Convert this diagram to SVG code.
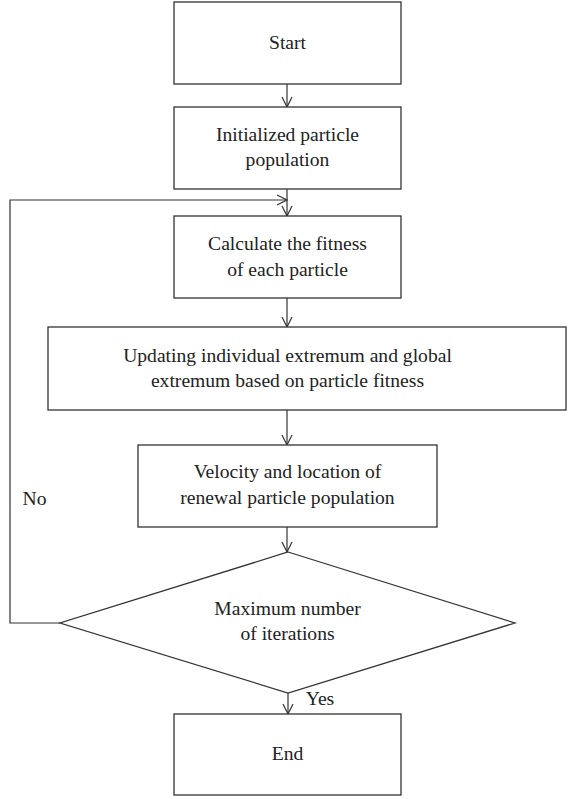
<svg xmlns="http://www.w3.org/2000/svg" width="568" height="799" viewBox="0 0 568 799">
<style>
.box{fill:#fff;stroke:#333;stroke-width:1.3}
.ln{fill:none;stroke:#333;stroke-width:1.2}
.t{font-family:'Liberation Serif','Times New Roman','DejaVu Serif',serif;font-size:19.6px;fill:#222;text-anchor:middle}
</style>
<defs>
<marker id="ah" viewBox="0 0 12 12" refX="11" refY="6" markerWidth="12" markerHeight="12" markerUnits="userSpaceOnUse" orient="auto">
<path d="M1,1 L11,6 L1,11" fill="none" stroke="#333" stroke-width="1.2"/>
</marker>
</defs>
<rect width="568" height="799" fill="#fff"/>
<g id="connectors">
<line class="ln" x1="287" y1="84" x2="287" y2="107" marker-end="url(#ah)"/>
<line class="ln" x1="287" y1="189" x2="287" y2="216" marker-end="url(#ah)"/>
<polyline class="ln" points="60,623 10,623 10,200 287,200" marker-end="url(#ah)"/>
<line class="ln" x1="287" y1="298" x2="287" y2="327" marker-end="url(#ah)"/>
<line class="ln" x1="287" y1="410" x2="287" y2="445" marker-end="url(#ah)"/>
<line class="ln" x1="287" y1="527" x2="287" y2="552" marker-end="url(#ah)"/>
<line class="ln" x1="288" y1="693" x2="288" y2="714" marker-end="url(#ah)"/>
<text class="t" x="34.5" y="505">No</text>
<text class="t" x="320" y="705">Yes</text>
</g>
<g id="start">
<rect class="box" x="174" y="2" width="227" height="82"/>
<text class="t" x="287.5" y="49">Start</text>
</g>
<g id="init">
<rect class="box" x="174" y="107" width="227" height="82"/>
<text class="t" x="287.5" y="141">Initialized particle</text>
<text class="t" x="287.5" y="166">population</text>
</g>
<g id="fitness">
<rect class="box" x="174" y="216" width="227" height="82"/>
<text class="t" x="287.5" y="250">Calculate the fitness</text>
<text class="t" x="287.5" y="276">of each particle</text>
</g>
<g id="update">
<rect class="box" x="48" y="327" width="518" height="83"/>
<text class="t" x="287.5" y="362">Updating individual extremum and global</text>
<text class="t" x="287.5" y="387">extremum based on particle fitness</text>
</g>
<g id="velocity">
<rect class="box" x="138" y="445" width="299" height="82"/>
<text class="t" x="287.5" y="478">Velocity and location of</text>
<text class="t" x="287.5" y="504">renewal particle population</text>
</g>
<g id="decision">
<polygon class="box" points="288,552 515,623 288,693 60,623"/>
<text class="t" x="287.5" y="615">Maximum number</text>
<text class="t" x="287.5" y="640">of iterations</text>
</g>
<g id="end">
<rect class="box" x="174" y="714" width="227" height="81"/>
<text class="t" x="287.5" y="760">End</text>
</g>
</svg>
